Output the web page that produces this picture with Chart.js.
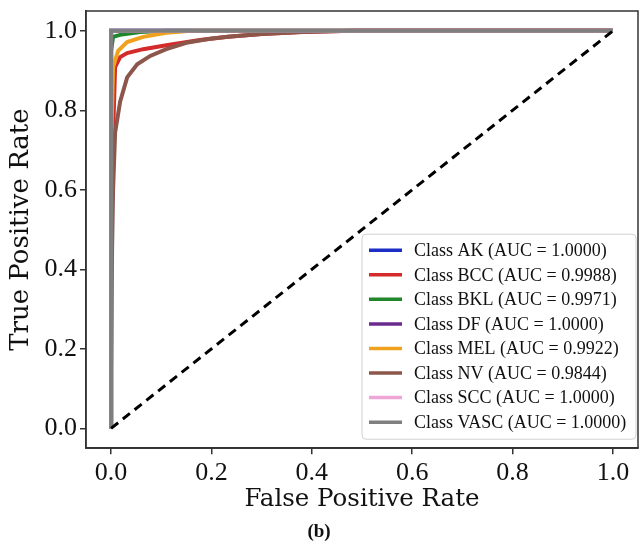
<!DOCTYPE html>
<html>
<head>
<meta charset="utf-8">
<script src="https://cdn.jsdelivr.net/npm/chart.js@4.4.1/dist/chart.umd.min.js"></script>
<style>
  html, body { margin: 0; padding: 0; background: #ffffff; }
  #wrap { width: 641px; height: 546px; }
</style>
</head>
<body>
<div id="wrap"><canvas id="c" width="641" height="546"></canvas></div>
<script>
// ---- Data ----
const classNames = ["AK", "BCC", "BKL", "DF", "MEL", "NV", "SCC", "VASC"];
const aucValues = ["1.0000", "0.9988", "0.9971", "1.0000", "0.9922", "0.9844", "1.0000", "1.0000"];
const lineColors = ["#1c2fc4", "#d42a2a", "#1f862a", "#6b2a8c", "#f0a21e", "#8c564b", "#efa6d6", "#7f7f7f"];

const fprAK   = [0, 0, 1];
const tprAK   = [0, 1, 1];
const fprBCC  = [0, 0, 0.003, 0.005, 0.008, 0.018, 0.032, 0.064, 0.11, 0.177, 0.233, 0.3, 0.38, 0.48, 1];
const tprBCC  = [0, 0.5, 0.66, 0.78, 0.909, 0.934, 0.944, 0.954, 0.964, 0.977, 0.985, 0.992, 0.997, 1, 1];
const fprBKL  = [0, 0, 0.004, 0.018, 0.058, 0.11, 1];
const tprBKL  = [0, 0.95, 0.985, 0.99, 0.997, 1, 1];
const fprDF   = [0, 0, 1];
const tprDF   = [0, 1, 1];
const fprMEL  = [0, 0, 0.004, 0.014, 0.032, 0.064, 0.11, 0.16, 1];
const tprMEL  = [0, 0.7, 0.909, 0.95, 0.972, 0.985, 0.995, 1, 1];
const fprNV   = [0, 0, 0.002, 0.004, 0.008, 0.018, 0.032, 0.052, 0.078, 0.11, 0.15, 0.197, 0.233, 0.3, 0.38, 0.48, 1];
const tprNV   = [0, 0.15, 0.45, 0.6, 0.744, 0.822, 0.883, 0.916, 0.937, 0.954, 0.97, 0.98, 0.985, 0.992, 0.997, 1, 1];
const fprSCC  = [0, 0, 1];
const tprSCC  = [0, 1, 1];
const fprVASC = [0, 0, 1];
const tprVASC = [0, 1, 1];
const fprDiag = [0, 1];
const tprDiag = [0, 1];

const tickValues = [0.0, 0.2, 0.4, 0.6, 0.8, 1.0];
const xTitle = "False Positive Rate";
const yTitle = "True Positive Rate";
const captionText = "(b)";

// ---- Build datasets ----
const fprs = [fprAK, fprBCC, fprBKL, fprDF, fprMEL, fprNV, fprSCC, fprVASC];
const tprs = [tprAK, tprBCC, tprBKL, tprDF, tprMEL, tprNV, tprSCC, tprVASC];
const toPts = (xs, ys) => xs.map((x, i) => ({ x: x, y: ys[i] }));

const datasets = classNames.map((name, i) => ({
  label: "Class " + name + " (AUC = " + aucValues[i] + ")",
  data: toPts(fprs[i], tprs[i]),
  borderColor: lineColors[i],
  backgroundColor: lineColors[i],
  borderWidth: 4,
  pointRadius: 0,
  tension: 0,
  fill: false,
  order: classNames.length - i
}));
datasets.push({
  label: "diag",
  data: toPts(fprDiag, tprDiag),
  borderColor: "#000000",
  borderWidth: 3,
  borderDash: [9, 6],
  pointRadius: 0,
  fill: false,
  order: -1,
  isDiagonal: true
});

const SERIF = "'Liberation Serif', 'Times New Roman', serif";
const TITLE_FONT = "'DejaVu Serif', serif";

// ---- Plugin: frame + in-axes legend ----
const framePlugin = {
  id: "frameLegend",
  afterDatasetsDraw(chart) {
    const ctx = chart.ctx;
    const a = chart.chartArea;
    ctx.save();
    ctx.strokeStyle = "#333333";
    ctx.lineWidth = 1.5;
    ctx.strokeRect(a.left, a.top, a.right - a.left, a.bottom - a.top);

    const w = 274, h = 205;
    const x0 = a.right - 2 - w;
    const y0 = a.bottom - 9 - h;
    const r = 4;
    ctx.beginPath();
    ctx.moveTo(x0 + r, y0);
    ctx.lineTo(x0 + w - r, y0);
    ctx.arcTo(x0 + w, y0, x0 + w, y0 + r, r);
    ctx.lineTo(x0 + w, y0 + h - r);
    ctx.arcTo(x0 + w, y0 + h, x0 + w - r, y0 + h, r);
    ctx.lineTo(x0 + r, y0 + h);
    ctx.arcTo(x0, y0 + h, x0, y0 + h - r, r);
    ctx.lineTo(x0, y0 + r);
    ctx.arcTo(x0, y0, x0 + r, y0, r);
    ctx.closePath();
    ctx.fillStyle = "rgba(255,255,255,0.85)";
    ctx.fill();
    ctx.strokeStyle = "#d0d0d0";
    ctx.lineWidth = 1;
    ctx.stroke();

    ctx.font = "18px " + SERIF;
    ctx.textBaseline = "middle";
    ctx.textAlign = "left";
    const rowH = 24.57;
    chart.data.datasets.forEach((ds, i) => {
      if (ds.isDiagonal) return;
      const yy = y0 + 16 + i * rowH;
      ctx.strokeStyle = ds.borderColor;
      ctx.lineWidth = 3.5;
      ctx.beginPath();
      ctx.moveTo(x0 + 7, yy);
      ctx.lineTo(x0 + 40, yy);
      ctx.stroke();
      ctx.fillStyle = "#111111";
      ctx.fillText(ds.label, x0 + 52, yy + 1);
    });
    ctx.restore();
  }
};

const zeroPad = (scale) => {
  scale.paddingLeft = 0; scale.paddingRight = 0;
  scale.paddingTop = 0; scale.paddingBottom = 0;
};

const axisCommon = {
  type: "linear",
  min: -0.05,
  max: 1.05,
  bounds: "data",
  afterBuildTicks: (scale) => { scale.ticks = tickValues.map(v => ({ value: v })); },
  grid: { display: true, drawOnChartArea: false, drawTicks: true, tickLength: 6, color: "#333333", lineWidth: 1.5 },
  border: { display: true, color: "#333333", width: 1.5 },
  ticks: {
    color: "#111111",
    font: { family: SERIF, size: 26 },
    padding: 3,
    maxRotation: 0,
    autoSkip: false,
    includeBounds: false,
    callback: (v) => Number(v).toFixed(1)
  }
};

new Chart(document.getElementById("c"), {
  type: "line",
  data: { datasets: datasets },
  plugins: [framePlugin],
  options: {
    responsive: false,
    animation: false,
    events: [],
    layout: { padding: { left: 0, right: 3, top: 11, bottom: 0 } },
    plugins: {
      legend: { display: false },
      tooltip: { enabled: false },
      title: {
        display: true,
        position: "bottom",
        text: captionText,
        color: "#111111",
        font: { family: SERIF, size: 19, weight: "bold" },
        padding: { top: 0, bottom: 3 }
      }
    },
    scales: {
      x: Object.assign({}, axisCommon, {
        position: "bottom",
        title: { display: true, text: xTitle, color: "#111111", font: { family: TITLE_FONT, size: 24.5 }, padding: { top: 0, bottom: 6 } },
        afterFit: (scale) => { scale.height = 72; zeroPad(scale); }
      }),
      y: Object.assign({}, axisCommon, {
        position: "left",
        title: { display: true, text: yTitle, color: "#111111", font: { family: TITLE_FONT, size: 26 }, padding: { top: 6, bottom: 0 } },
        afterFit: (scale) => { scale.width = 86; zeroPad(scale); }
      })
    }
  }
});
</script>
</body>
</html>
